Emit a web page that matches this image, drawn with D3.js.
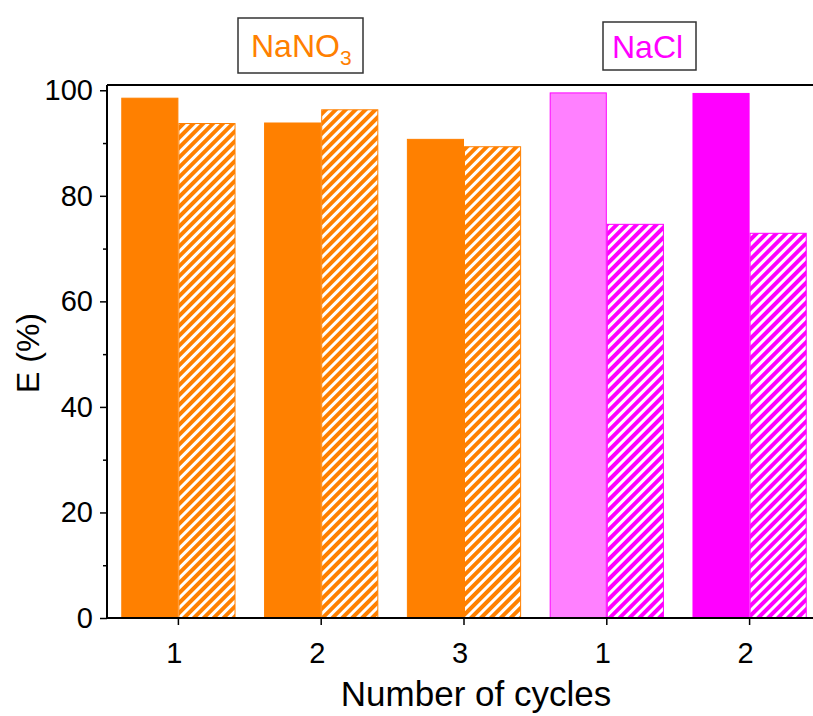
<!DOCTYPE html>
<html><head><meta charset="utf-8">
<script src="https://cdn.jsdelivr.net/npm/d3@7"></script>
<style>body{margin:0;background:#fff}svg{display:block}text{font-family:Arial,"Liberation Sans",sans-serif}</style>
</head><body><svg id="c" width="813" height="716"></svg>
<script>
const categories = ["1", "2", "3", "1", "2"];
const solidValues = [98.5, 93.8, 90.7, 99.5, 99.4];
const hatchedValues = [93.7, 96.3, 89.3, 74.6, 72.9];
const yTicks = [0, 20, 40, 60, 80, 100];
const groupLabels = ["NaNO", "NaCl"];

const solidFill = ["#FF8000", "#FF8000", "#FF8000", "#FF80FF", "#FF00FF"];
const edgeColor = ["#FF8000", "#FF8000", "#FF8000", "#FF00FF", "#FF00FF"];

const svg = d3.select("#c");
const mLeft = 107, mTop = 85, mBottom = 618, mRight = 821;

const x = d3.scaleBand().domain(d3.range(categories.length)).range([mLeft, mRight]).paddingInner(0.2).paddingOuter(0.1);
const y = d3.scaleLinear().domain([0, 101]).range([mBottom, mTop]);

const defs = svg.append("defs");
["#FF8000", "#FF00FF"].forEach((c, i) => {
  const p = defs.append("pattern").attr("id", "h" + i).attr("patternUnits", "userSpaceOnUse")
    .attr("width", 7).attr("height", 7).attr("patternTransform", "rotate(45)");
  p.append("rect").attr("width", 7).attr("height", 7).attr("fill", c);
  p.append("line").attr("x1", 3.5).attr("x2", 3.5).attr("y1", 0).attr("y2", 7).attr("stroke", "#fff").attr("stroke-width", 3);
});

const bw = x.bandwidth() / 2;
const g = svg.append("g");
g.selectAll(".s").data(solidValues).join("rect")
  .attr("x", (d, i) => x(i) + 0.5).attr("y", d => y(d)).attr("width", bw - 1).attr("height", d => y(0) - y(d))
  .attr("fill", (d, i) => solidFill[i]).attr("stroke", (d, i) => edgeColor[i]).attr("stroke-width", 1);
g.selectAll(".h").data(hatchedValues).join("rect")
  .attr("x", (d, i) => x(i) + bw + 0.5).attr("y", d => y(d)).attr("width", bw - 1).attr("height", d => y(0) - y(d))
  .attr("fill", (d, i) => i < 3 ? "url(#h0)" : "url(#h1)").attr("stroke", (d, i) => edgeColor[i]).attr("stroke-width", 1);

// axes
const yAxis = svg.append("g").attr("transform", `translate(${mLeft},0)`)
  .call(d3.axisLeft(y).tickValues(yTicks).tickSize(7).tickPadding(7));
const yMinor = svg.append("g").attr("transform", `translate(${mLeft},0)`)
  .call(d3.axisLeft(y).tickValues(d3.range(10, 101, 20)).tickSize(4).tickFormat(""));
yMinor.select(".domain").remove();
const xAxis = svg.append("g").attr("transform", `translate(0,${mBottom})`)
  .call(d3.axisBottom(x).tickFormat(i => categories[i]).tickSize(7).tickPadding(17));
[yAxis, xAxis].forEach(a => {
  a.select(".domain").attr("stroke-width", 2).attr("stroke", "#000");
  a.selectAll("text").attr("font-size", 29).attr("fill", "#000");
});
xAxis.selectAll("text").attr("dx", -4);
xAxis.select(".domain").attr("d", `M${mLeft},0H${mRight}`);
yAxis.select(".domain").attr("d", `M0,${mBottom}V${mTop}`);
svg.selectAll(".tick line").attr("stroke", "#000").attr("stroke-width", 1.5);
svg.append("line").attr("x1", mLeft).attr("x2", mRight).attr("y1", mTop).attr("y2", mTop).attr("stroke", "#000").attr("stroke-width", 2);

// titles
svg.append("text").attr("transform", "translate(39,353) rotate(-90)").attr("text-anchor", "middle")
  .attr("font-size", 32).text("E (%)");
svg.append("text").attr("x", 476).attr("y", 706).attr("text-anchor", "middle").attr("font-size", 35).text("Number of cycles");

// group labels
svg.append("rect").attr("x", 238).attr("y", 18).attr("width", 125).attr("height", 55).attr("fill", "none").attr("stroke", "#333").attr("stroke-width", 1.5);
const t1 = svg.append("text").attr("x", 251).attr("y", 57).attr("font-size", 32).attr("fill", "#FF8000").text(groupLabels[0]);
t1.append("tspan").attr("font-size", 21).attr("dy", 8).text("3");
svg.append("rect").attr("x", 603).attr("y", 22).attr("width", 93).attr("height", 48).attr("fill", "none").attr("stroke", "#333").attr("stroke-width", 1.5);
svg.append("text").attr("x", 612).attr("y", 58).attr("font-size", 32).attr("fill", "#FF00FF").text(groupLabels[1]);
</script></body></html>
